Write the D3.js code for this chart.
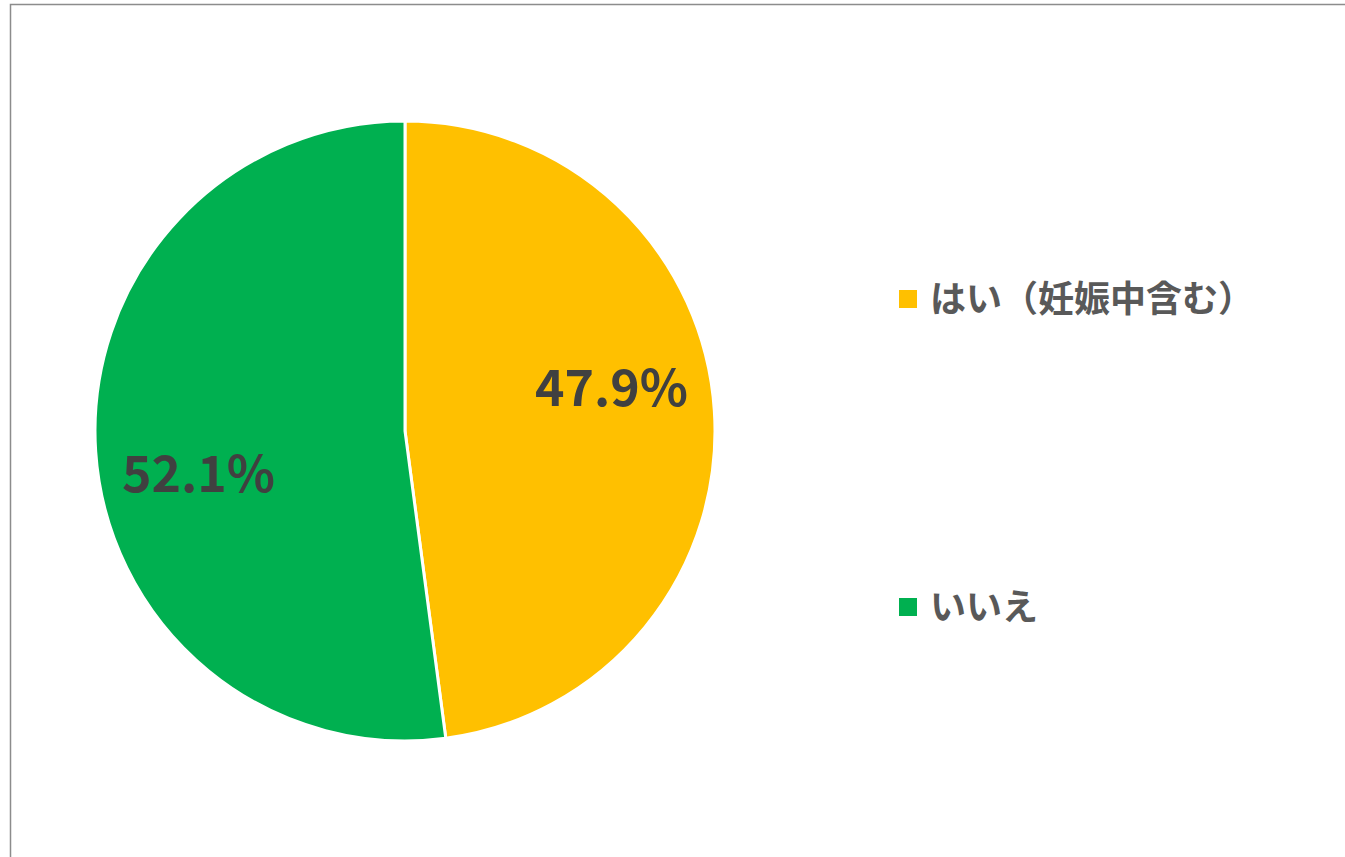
<!DOCTYPE html>
<html>
<head>
<meta charset="utf-8">
<script src="https://cdn.jsdelivr.net/npm/d3@7"></script>
<style>
  html, body { margin: 0; padding: 0; background: #fff; }
  svg { display: block; }
</style>
</head>
<body>
<script>
// data
var categories = ['はい（妊娠中含む）', 'いいえ'];
var values = [47.9, 52.1];
var colors = ['#FFC000', '#00B050'];

var width = 1345, height = 857;
var cx = 405, cy = 431, radius = 310;

var svg = d3.select('body').append('svg')
            .attr('width', width)
            .attr('height', height);

// chart frame
svg.append('rect')
   .attr('x', 10.5).attr('y', 4.5)
   .attr('width', width + 20).attr('height', height + 20)
   .attr('fill', '#fff')
   .attr('stroke', '#8c8c8c')
   .attr('stroke-width', 1.5);

var pie = d3.pie().sort(null).value(function(d){ return d; });
var arcs = pie(values);

var arc = d3.arc().innerRadius(0).outerRadius(radius);

var g = svg.append('g').attr('transform', 'translate(' + cx + ',' + cy + ')');

g.selectAll('path.slice').data(arcs).enter()
  .append('path')
  .attr('class', 'slice')
  .attr('d', arc)
  .attr('fill', function(d, i){ return colors[i]; })
  .attr('stroke', '#fff')
  .attr('stroke-width', 3)
  .attr('stroke-linejoin', 'round');

// data labels (best-fit style, a bit rotated back from the mid angle)
var labelR = 211, angleShift = -0.14;
g.selectAll('text.pct').data(arcs).enter()
  .append('text')
  .attr('class', 'pct')
  .attr('x', function(d){ var a = (d.startAngle + d.endAngle) / 2 + angleShift; return Math.sin(a) * labelR; })
  .attr('y', function(d){ var a = (d.startAngle + d.endAngle) / 2 + angleShift; return -Math.cos(a) * labelR; })
  .attr('dy', '0.36em')
  .attr('text-anchor', 'middle')
  .style('font-family', '"Noto Sans CJK JP", "Noto Sans", sans-serif')
  .style('font-weight', 700)
  .style('font-size', '50px')
  .attr('fill', '#404040')
  .text(function(d){ return d.data.toFixed(1) + '%'; });

// legend
var legendY = d3.scalePoint().domain(categories).range([299, 607]);
var legend = svg.selectAll('g.legend').data(categories).enter()
  .append('g')
  .attr('class', 'legend')
  .attr('transform', function(d){ return 'translate(899,' + legendY(d) + ')'; });

legend.append('rect')
  .attr('x', 0).attr('y', -9)
  .attr('width', 18).attr('height', 18)
  .attr('fill', function(d, i){ return colors[i]; });

legend.append('text')
  .attr('x', 31).attr('y', 0)
  .attr('dy', '0.36em')
  .style('font-family', '"Noto Sans CJK JP", "Noto Sans", sans-serif')
  .style('font-weight', 700)
  .style('font-size', '36px')
  .attr('fill', '#595959')
  .text(function(d){ return d; });
</script>
</body>
</html>
